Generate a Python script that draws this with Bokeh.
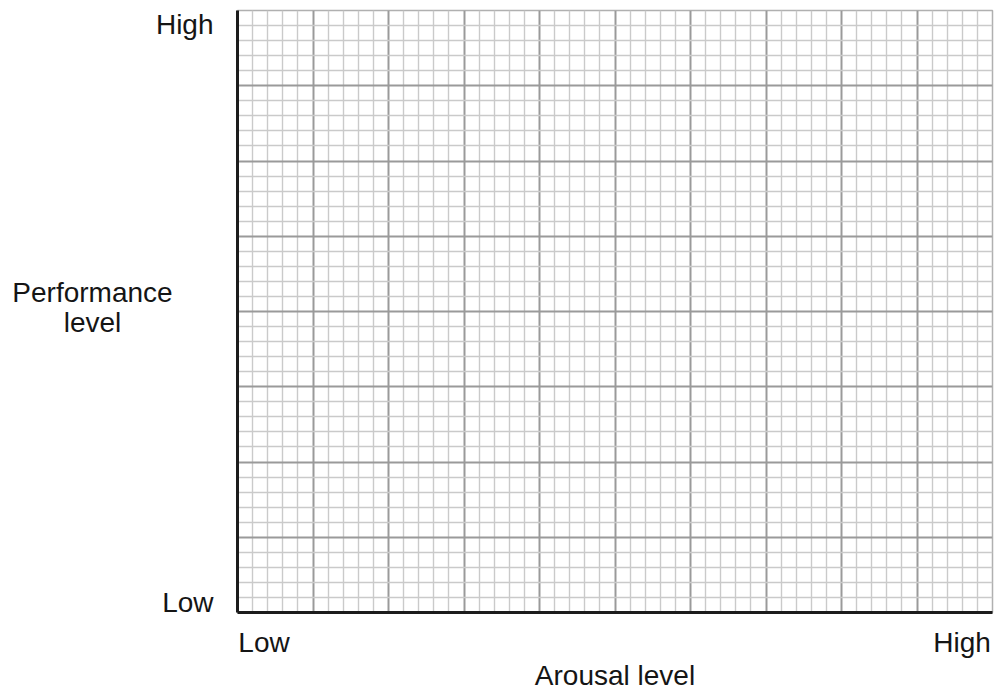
from bokeh.plotting import figure
from bokeh.models import FixedTicker, Range1d
from bokeh.layouts import row
from bokeh.core.properties import value
from bokeh.embed import file_html
from bokeh.resources import INLINE

# Chart content
x_axis_title = "Arousal level"
y_axis_title = ["Performance", "level"]
x_tick_labels = ["Low", "High"]
y_tick_labels = ["Low", "High"]
x_divisions = 10   # major squares across
y_divisions = 8    # major squares up
minor_per_major = 5

major_x = list(range(0, x_divisions + 1))
major_y = list(range(0, y_divisions + 1))
minor_x = [i / minor_per_major for i in range(x_divisions * minor_per_major + 1) if i % minor_per_major]
minor_y = [i / minor_per_major for i in range(y_divisions * minor_per_major + 1) if i % minor_per_major]

# where the end labels sit along each axis (near the ends)
x_label_pos = [0.351, 9.596]
y_label_pos = [0.135, 7.814]
y_title_pos = [4.246, 3.848]

FONT = "Liberation Sans"
FS = "28px"
TXT = "#151515"
LEFT_W = 235
TOP, BOTTOM = 10, 84

y_range = Range1d(0, y_divisions)

# ---- left strip holding the vertical-axis texts (frame aligned with the grid) ----
side = figure(width=LEFT_W, height=696, x_range=Range1d(0, LEFT_W), y_range=y_range,
              x_axis_type=None, y_axis_type=None, output_backend="svg", toolbar_location=None,
              min_border_left=0, min_border_right=0, min_border_top=TOP, min_border_bottom=BOTTOM)
side.outline_line_color = None
side.background_fill_color = "white"
side.border_fill_color = "white"
side.xgrid.visible = False
side.ygrid.visible = False
side.text(x=[213, 213], y=y_label_pos, text=y_tick_labels, text_align="right",
          text_baseline="middle", text_font=value(FONT), text_font_size=FS, text_color=TXT)
side.text(x=[92, 92], y=y_title_pos, text=y_axis_title, text_align="center",
          text_baseline="alphabetic", text_font=value(FONT), text_font_size=FS, text_color=TXT)

# ---- main grid ----
p = figure(width=994 - LEFT_W, height=696,
           x_range=Range1d(0, x_divisions), y_range=y_range,
           output_backend="svg", toolbar_location=None,
           min_border_left=237 - LEFT_W, min_border_right=2, min_border_top=TOP, min_border_bottom=BOTTOM)
p.background_fill_color = "white"
p.border_fill_color = "white"
p.outline_line_color = "#b0b0b0"
p.outline_line_width = 1.5

for g, major, minor in ((p.xgrid, major_x, minor_x), (p.ygrid, major_y, minor_y)):
    g.ticker = FixedTicker(ticks=major, minor_ticks=minor)
    g.grid_line_color = "#9a9a9a"
    g.grid_line_width = 2
    g.grid_line_alpha = 1
    g.minor_grid_line_color = "#cacaca"
    g.minor_grid_line_width = 1.4

for ax in (p.xaxis, p.yaxis):
    ax.major_tick_line_color = None
    ax.minor_tick_line_color = None
    ax.major_tick_in = 0
    ax.major_tick_out = 0
    ax.minor_tick_in = 0
    ax.minor_tick_out = 0
    ax.axis_line_color = "#1c1c1c"
    ax.axis_line_width = 3
    ax.major_label_text_font = FONT
    ax.major_label_text_font_size = FS
    ax.major_label_text_color = TXT
    ax.axis_label_text_font = FONT
    ax.axis_label_text_font_size = FS
    ax.axis_label_text_color = TXT
    ax.axis_label_text_font_style = "normal"

p.xaxis.ticker = FixedTicker(ticks=x_label_pos)
p.xaxis.major_label_overrides = {x_label_pos[i]: x_tick_labels[i] for i in range(2)}
p.xaxis.major_label_standoff = 14
p.xaxis.axis_label = x_axis_title
p.xaxis.axis_label_standoff = -1

p.yaxis.ticker = FixedTicker(ticks=[])
p.yaxis.major_label_text_font_size = "0px"

layout = row(side, p, spacing=0)
open("out.html", "w").write(file_html(layout, INLINE))
